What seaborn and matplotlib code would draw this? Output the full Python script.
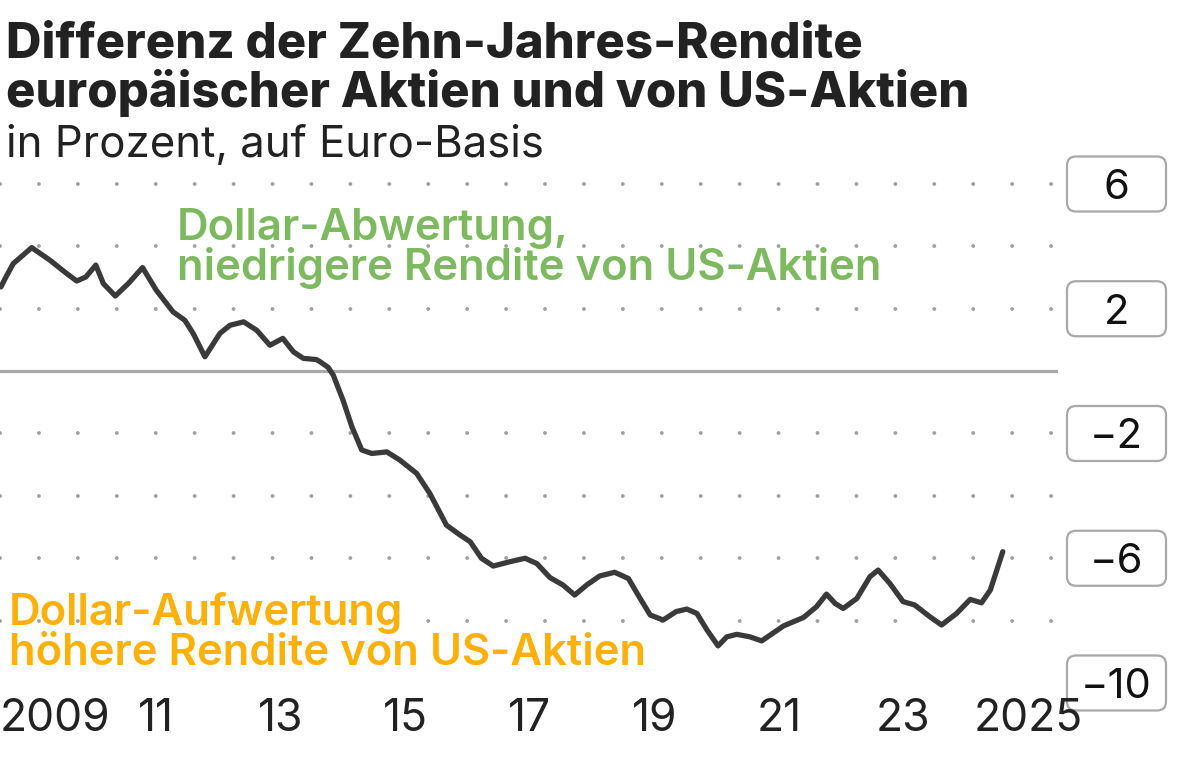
import matplotlib
matplotlib.use("Agg")
import matplotlib.pyplot as plt
import matplotlib.dates as mdates
from matplotlib.patches import FancyBboxPatch
import seaborn as sns
import pandas as pd

# ---------------- data ----------------
dates = [
    "2009-01-01", "2009-02-06", "2009-03-15", "2009-07-01", "2009-10-15",
    "2010-01-22", "2010-03-22", "2010-05-15", "2010-07-12", "2010-08-25",
    "2010-11-03", "2011-01-19", "2011-04-12", "2011-07-01", "2011-10-08",
    "2011-12-16", "2012-02-03", "2012-04-12", "2012-07-09", "2012-09-06",
    "2012-11-25", "2013-02-10", "2013-04-28", "2013-07-13", "2013-09-13",
    "2013-11-10", "2014-01-26", "2014-02-17", "2014-04-05", "2014-05-05",
    "2014-07-01", "2014-08-22", "2014-10-19", "2014-12-17", "2015-03-15",
    "2015-05-30", "2015-09-06", "2015-11-22", "2016-02-28", "2016-05-19",
    "2016-07-16", "2016-09-20", "2016-11-28", "2017-03-07", "2017-06-03",
    "2017-08-11", "2017-10-27", "2018-01-12", "2018-03-21", "2018-05-30",
    "2018-08-14", "2018-11-10", "2019-01-30", "2019-04-09", "2019-06-07",
    "2019-08-22", "2019-11-06", "2020-01-08", "2020-03-07", "2020-05-05",
    "2020-07-09", "2020-08-29", "2020-10-27", "2021-01-12", "2021-03-22",
    "2021-07-28", "2021-11-22", "2022-02-07", "2022-04-06", "2022-05-27",
    "2022-07-13", "2022-10-01", "2022-12-17", "2023-02-03", "2023-04-13",
    "2023-06-29", "2023-09-06", "2023-12-02", "2024-02-10", "2024-05-08",
    "2024-07-27", "2024-10-01", "2024-11-22", "2025-02-03",
]
spread = [
    2.70, 3.08, 3.45, 3.96, 3.56,
    3.13, 2.89, 3.02, 3.40, 2.81,
    2.41, 2.81, 3.32, 2.60, 1.90,
    1.63, 1.21, 0.46, 1.21, 1.47,
    1.58, 1.31, 0.83, 1.05, 0.62,
    0.41, 0.37, 0.30, 0.12, -0.13,
    -0.93, -1.78, -2.53, -2.64, -2.59,
    -2.85, -3.28, -3.92, -4.94, -5.26,
    -5.47, -6.00, -6.25, -6.11, -6.00,
    -6.17, -6.62, -6.86, -7.18, -6.86,
    -6.57, -6.45, -6.65, -7.29, -7.82,
    -7.98, -7.71, -7.63, -7.77, -8.30,
    -8.81, -8.52, -8.44, -8.52, -8.65,
    -8.17, -7.90, -7.55, -7.15, -7.45,
    -7.61, -7.29, -6.59, -6.38, -6.81,
    -7.39, -7.50, -7.87, -8.14, -7.77,
    -7.32, -7.43, -7.02, -5.79,
]
y_ticks = [-10, -6, -2, 2, 6]
y_tick_labels = ["\u221210", "\u22126", "\u22122", "2", "6"]
grid_levels = [-8, -6, -4, -2, 2, 4, 6]
year_ticks = [f"{y}-01-01" for y in range(2010, 2026)]
year_label_pos = ["2008-12-27", "2011-07-01", "2013-07-01", "2015-07-01", "2017-07-01",
                  "2019-07-01", "2021-07-01", "2023-07-01", "2025-07-01"]
year_labels = ["2009", "11", "13", "15", "17", "19", "21", "23", "2025"]

title_lines = ["Differenz der Zehn-Jahres-Rendite",
               "europäischer Aktien und von US-Aktien"]
subtitle = "in Prozent, auf Euro-Basis"
green_lines = ["Dollar-Abwertung,", "niedrigere Rendite von US-Aktien"]
orange_lines = ["Dollar-Aufwertung", "höhere Rendite von US-Aktien"]

df = pd.DataFrame({"date": pd.to_datetime(dates), "spread": spread})

# ---------------- style ----------------
sns.set_theme(style="white")
plt.rcParams["font.family"] = ["Inter", "DejaVu Sans"]
plt.rcParams["axes.unicode_minus"] = True

W, H = 1200, 765
fig = plt.figure(figsize=(W / 100, H / 100), dpi=100)
ax_top, ax_bot, ax_right = 150, 683, 1058
ax = fig.add_axes([0, 1 - ax_bot / H, ax_right / W, (ax_bot - ax_top) / H])
ax.set_facecolor("none")
ax.set_axisbelow(True)

x0 = mdates.date2num(pd.Timestamp("2008-12-27"))
x1 = mdates.date2num(pd.Timestamp("2025-12-24"))
ax.set_xlim(x0, x1)
ax.set_ylim(-10, 7.09)

GRID = "#a0a0a0"
for v in grid_levels:
    ax.axhline(v, color=GRID, lw=2.8, ls=(0, (0.01, 10.0)),
               dash_capstyle="round", zorder=1)
ax.axhline(0, color="#a9a9a9", lw=2.3, zorder=1.2)

sns.lineplot(data=df, x="date", y="spread", ax=ax, color="#3a3a3a",
             lw=3.8, zorder=3, legend=False)
ax.lines[-1].set_solid_capstyle("round")
ax.lines[-1].set_solid_joinstyle("round")

for s in ax.spines.values():
    s.set_visible(False)
ax.set_xlabel("")
ax.set_ylabel("")

# x ticks
ax.set_xticks(mdates.date2num(pd.to_datetime(year_ticks)))
ax.set_xticklabels([""] * len(year_ticks))
ax.set_xticks(mdates.date2num(pd.to_datetime(year_label_pos)), minor=True)
ax.set_xticklabels(year_labels, minor=True)
ax.tick_params(axis="x", which="major", direction="out", length=15, width=1.8,
               color="#c4c4c4", pad=0)
ax.tick_params(axis="x", which="minor", length=0, pad=11, labelsize=32,
               labelcolor="#222222")
ax.get_xticklabels(minor=True)[0].set_horizontalalignment("left")

# y ticks on right with boxes
ax.yaxis.tick_right()
ax.set_yticks(y_ticks)
ax.set_yticklabels(y_tick_labels)
ax.tick_params(axis="y", length=0, pad=42, labelsize=30, labelcolor="#111111")
for lab in ax.get_yticklabels():
    lab.set_horizontalalignment("center")

bx0, bw, bh = 1067, 99, 55
for v in y_ticks:
    yd = ax.transData.transform((x0, v))[1]
    p = FancyBboxPatch((bx0, yd - bh / 2), bw, bh,
                       boxstyle="round,pad=0,rounding_size=9",
                       transform=None, fc="white", ec="#a8a8a8", lw=1.6,
                       zorder=-1)
    fig.add_artist(p)


def ftext(x, ybase, s, **kw):
    fig.text(x / W, 1 - ybase / H, s, va="baseline", ha="left", **kw)


ftext(6, 57, title_lines[0], fontsize=35.3, fontweight="heavy", color="#222222")
ftext(6, 107, title_lines[1], fontsize=35.3, fontweight="heavy", color="#222222")
ftext(6, 157, subtitle, fontsize=31.5, color="#222222")

GREEN = "#7db95f"
ORANGE = "#fbb00a"
ftext(177, 240, green_lines[0], fontsize=31.4, fontweight="semibold", color=GREEN)
ftext(177, 280, green_lines[1], fontsize=31.4, fontweight="semibold", color=GREEN)
ftext(9, 625, orange_lines[0], fontsize=31.4, fontweight="semibold", color=ORANGE)
ftext(9, 665, orange_lines[1], fontsize=31.4, fontweight="semibold", color=ORANGE)

fig.savefig("out.png", dpi=100)
